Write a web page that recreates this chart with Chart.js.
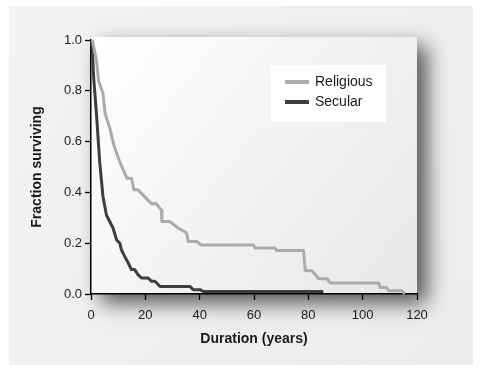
<!DOCTYPE html>
<html>
<head>
<meta charset="utf-8">
<script src="https://cdn.jsdelivr.net/npm/chart.js@4.4.0/dist/chart.umd.min.js"></script>
<style>
html,body{margin:0;padding:0;background:#fff;}
#wrap{width:482px;height:374px;position:relative;}
</style>
</head>
<body>
<div id="wrap"><canvas id="c" width="482" height="374"></canvas></div>
<script>
// Data (duration in years, fraction surviving)
const seriesNames = ["Religious", "Secular"];
const religiousX = [0.5, 2, 2.8, 4.4, 5.2, 7, 8.3, 10.6, 13.2, 14.9, 15.8, 17.3, 22.3, 24.1, 25.9, 26.1, 29, 32.1, 35.2, 35.8, 38.9, 40.7, 59.8, 60.4, 67.8, 68.4, 78.2, 78.9, 81.3, 83.8, 86.9, 88.1, 105.9, 106.5, 108.7, 109.6, 114.5, 115.4];
const religiousY = [1.0, 0.92, 0.84, 0.79, 0.71, 0.65, 0.59, 0.52, 0.456, 0.456, 0.41, 0.41, 0.355, 0.355, 0.33, 0.285, 0.285, 0.26, 0.24, 0.207, 0.207, 0.193, 0.193, 0.181, 0.181, 0.171, 0.171, 0.092, 0.092, 0.06, 0.06, 0.043, 0.043, 0.026, 0.026, 0.013, 0.013, 0.0];
const secularX = [0.3, 1, 2, 3.2, 4.4, 5.7, 8.1, 9.4, 10.6, 11.2, 12.4, 13.7, 14.9, 16.1, 17.3, 18.6, 21, 22.3, 23.5, 25.4, 36.4, 37.6, 40.1, 41.3, 85.5];
const secularY = [1.0, 0.85, 0.71, 0.52, 0.384, 0.31, 0.26, 0.214, 0.2, 0.174, 0.148, 0.122, 0.096, 0.096, 0.076, 0.063, 0.063, 0.05, 0.05, 0.03, 0.03, 0.017, 0.017, 0.01, 0.01];
const xTicks = [0, 20, 40, 60, 80, 100, 120];
const yTicks = [0.0, 0.2, 0.4, 0.6, 0.8, 1.0];
const colors = ["#ababad", "#3e3e3e"];

const toPts = (xs, ys) => xs.map((x, i) => ({x: x, y: ys[i]}));

const bgPlugin = {
  id: 'bg',
  beforeDraw(chart) {
    const ctx = chart.ctx, a = chart.chartArea;
    ctx.save();
    ctx.fillStyle = '#ffffff';
    ctx.fillRect(0, 0, chart.width, chart.height);
    // outer panel
    const g = ctx.createLinearGradient(9, 6, 473, 365);
    g.addColorStop(0, '#f3f3f3');
    g.addColorStop(1, '#ececec');
    ctx.fillStyle = g;
    ctx.fillRect(9, 6, 464, 359);
    // plot box with shadow
    const top = a.top - 3;
    ctx.shadowColor = 'rgba(0,0,0,0.65)';
    ctx.shadowBlur = 20;
    ctx.shadowOffsetX = 10;
    ctx.shadowOffsetY = 9;
    const g2 = ctx.createLinearGradient(a.left, top, a.right, a.bottom);
    g2.addColorStop(0, '#ffffff');
    g2.addColorStop(1, '#e7e7e9');
    ctx.fillStyle = g2;
    ctx.fillRect(a.left, top, a.right - a.left, a.bottom - top);
    ctx.restore();
  },
  afterDraw(chart) {
    const ctx = chart.ctx;
    ctx.save();
    ctx.fillStyle = '#ffffff';
    ctx.fillRect(271, 65, 115, 57);
    ctx.font = '14px "Liberation Sans", Arial, sans-serif';
    ctx.textBaseline = 'middle';
    ctx.textAlign = 'left';
    chart.data.datasets.forEach((ds, i) => {
      const y = 82 + i * 20;
      ctx.fillStyle = ds.borderColor;
      ctx.fillRect(285, y - 2, 24, 4);
      ctx.fillStyle = '#1a1a1a';
      ctx.fillText(ds.label, 315, y + 0.5);
    });
    ctx.restore();
  }
};

new Chart(document.getElementById('c'), {
  type: 'line',
  data: {
    datasets: [
      {label: seriesNames[0], data: toPts(religiousX, religiousY), borderColor: colors[0], borderWidth: 3, pointRadius: 0, tension: 0, clip: false, borderJoinStyle: 'round'},
      {label: seriesNames[1], data: toPts(secularX, secularY), borderColor: colors[1], borderWidth: 3, pointRadius: 0, tension: 0, clip: false, borderJoinStyle: 'round'}
    ]
  },
  options: {
    responsive: false,
    animation: false,
    devicePixelRatio: 1,
    layout: {padding: {top: 40, right: 65, left: 0, bottom: 0}},
    plugins: {legend: {display: false}, tooltip: {enabled: false}},
    scales: {
      x: {
        type: 'linear', min: 0, max: 120,
        afterFit: s => { s.height = 80; },
        afterBuildTicks: s => { s.ticks = xTicks.map(v => ({value: v})); },
        ticks: {color: '#222', font: {size: 13, family: '"Liberation Sans", Arial, sans-serif'}, padding: 8, maxRotation: 0},
        grid: {display: true, drawOnChartArea: false, drawTicks: true, tickLength: 6, color: '#000', tickWidth: 1.3},
        border: {display: true, color: '#000', width: 1.5},
        title: {display: true, text: 'Duration (years)', color: '#1a1a1a', font: {size: 14, weight: 'bold', family: '"Liberation Sans", Arial, sans-serif'}, padding: {top: 0, bottom: 26}}
      },
      y: {
        type: 'linear', min: 0, max: 1,
        afterFit: s => { s.width = 91; },
        afterBuildTicks: s => { s.ticks = yTicks.map(v => ({value: v})); },
        ticks: {color: '#222', font: {size: 13, family: '"Liberation Sans", Arial, sans-serif'}, padding: 3, callback: v => v.toFixed(1)},
        grid: {display: true, drawOnChartArea: false, drawTicks: true, tickLength: 6, color: '#000', tickWidth: 1.3},
        border: {display: true, color: '#000', width: 1.5},
        title: {display: true, text: 'Fraction surviving', color: '#1a1a1a', font: {size: 14, weight: 'bold', family: '"Liberation Sans", Arial, sans-serif'}, padding: {top: 29, bottom: 0}}
      }
    }
  },
  plugins: [bgPlugin]
});
</script>
</body>
</html>
